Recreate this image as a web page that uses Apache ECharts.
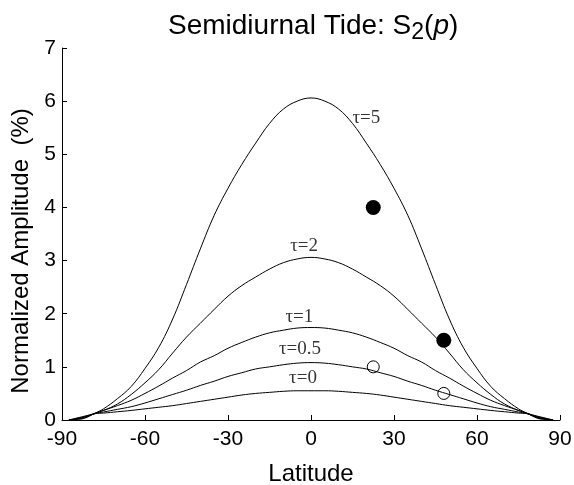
<!DOCTYPE html>
<html>
<head>
<meta charset="utf-8">
<script src="https://cdn.jsdelivr.net/npm/echarts@6/dist/echarts.min.js"></script>
<style>
html,body{margin:0;padding:0;background:#fff;}
#chart{width:574px;height:485px;}
</style>
</head>
<body>
<div id="chart"></div>
<script>
// Latitude grid (degrees)
var latitudes = [-87.5,-85,-82,-78,-75,-70,-65,-60,-55,-50,-45,-40,-35,-30,-25,-20,-15,-10,-5,0,
                 5,10,15,20,25,30,35,40,45,50,55,60,65,70,75,78,82,85,87.5];
// Normalized amplitude (%) for each tau
var tau5  = [0,0.01,0.03,0.13,0.21,0.40,0.63,0.97,1.37,1.90,2.55,3.22,3.85,4.36,4.81,5.21,5.58,5.85,6.00,6.06,
             6.00,5.85,5.58,5.21,4.81,4.36,3.85,3.22,2.55,1.90,1.37,0.97,0.63,0.40,0.21,0.13,0.03,0.01,0];
var tau2  = [0,0.015,0.04,0.13,0.18,0.30,0.48,0.70,0.95,1.26,1.56,1.82,2.08,2.33,2.53,2.69,2.84,2.96,3.03,3.06,
             3.03,2.96,2.84,2.69,2.53,2.33,2.08,1.82,1.56,1.26,0.95,0.70,0.48,0.30,0.18,0.13,0.04,0.015,0];
var tau1  = [0,0.02,0.05,0.125,0.18,0.27,0.37,0.50,0.64,0.79,0.93,1.09,1.21,1.35,1.46,1.56,1.64,1.69,1.73,1.74,
             1.73,1.69,1.64,1.56,1.46,1.35,1.21,1.09,0.93,0.79,0.64,0.50,0.37,0.27,0.18,0.125,0.05,0.02,0];
var tau05 = [0,0.025,0.06,0.12,0.15,0.20,0.25,0.32,0.40,0.48,0.56,0.65,0.73,0.82,0.89,0.96,1.00,1.04,1.07,1.08,
             1.07,1.04,1.00,0.96,0.89,0.82,0.73,0.65,0.56,0.48,0.40,0.32,0.25,0.20,0.15,0.12,0.06,0.025,0];
var tau0  = [0,0.032,0.07,0.12,0.13,0.155,0.18,0.21,0.24,0.27,0.31,0.35,0.39,0.43,0.47,0.50,0.52,0.54,0.55,0.55,
             0.55,0.54,0.52,0.50,0.47,0.43,0.39,0.35,0.31,0.27,0.24,0.21,0.18,0.155,0.13,0.12,0.07,0.032,0];

// Observations
var filledLat = [22.5, 48];
var filledVal = [4.0, 1.5];
var openLat = [22.5, 48];
var openVal = [1.0, 0.5];

// Curve labels (data coordinates)
var curveLabels = ['τ=5','τ=2','τ=1','τ=0.5','τ=0'];
var curveLabelLat = [20, -2.5, -4.2, -4, -2.9];
var curveLabelVal = [5.69, 3.28, 1.93, 1.34, 0.79];

// Axis ticks
var xTicks = [-90,-60,-30,0,30,60,90];
var yTicks = [0,1,2,3,4,5,6,7];

function pairs(xs, ys){ return xs.map(function(x,i){ return [x, ys[i]]; }); }

var sans = 'Liberation Sans, Arial, Helvetica, sans-serif';
var serif = 'Liberation Serif, Times New Roman, serif';

function curve(name, vals){
  return {
    name: name, type: 'line', data: pairs(latitudes, vals),
    showSymbol: false, symbol: 'none', smooth: 0.4,
    lineStyle: {color: '#000', width: 1}, z: 2, animation: false
  };
}

var chart = echarts.init(document.getElementById('chart'), null, {renderer: 'canvas'});
chart.setOption({
  animation: false,
  backgroundColor: '#fff',
  title: {
    text: '{a|Semidiurnal Tide: S}{s|2}{a|(}{i|p}{a|)}',
    left: 168, top: 8, padding: 0,
    textStyle: {
      rich: {
        a: {fontFamily: sans, fontSize: 28, fontWeight: 'normal', color: '#000', lineHeight: 36, verticalAlign: 'middle'},
        s: {fontFamily: sans, fontSize: 23, fontWeight: 'normal', color: '#000', lineHeight: 26, verticalAlign: 'bottom'},
        i: {fontFamily: sans, fontSize: 28, fontWeight: 'normal', color: '#000', fontStyle: 'italic', lineHeight: 36, verticalAlign: 'middle'}
      }
    }
  },
  grid: {left: 62, right: 14, top: 48, bottom: 65, containLabel: false, outerBoundsMode: 'none'},
  xAxis: {
    type: 'value', min: -90, max: 90, interval: 30,
    name: 'Latitude', nameLocation: 'middle', nameGap: 42,
    nameTextStyle: {fontFamily: sans, fontSize: 24, color: '#000'},
    axisLine: {show: true, onZero: false, lineStyle: {color: '#000', width: 1}},
    axisTick: {show: true, inside: true, length: 5, lineStyle: {color: '#000'}},
    axisLabel: {fontFamily: sans, fontSize: 21, color: '#000', margin: 9,
                formatter: function(v){ return xTicks.indexOf(v) >= 0 ? String(v) : ''; }},
    splitLine: {show: false}
  },
  yAxis: {
    type: 'value', min: 0, max: 7, interval: 1,
    name: 'Normalized Amplitude  (%)', nameLocation: 'middle', nameGap: 29, nameRotate: 90,
    nameTextStyle: {fontFamily: sans, fontSize: 24, color: '#000', padding: [0, 34, 0, 0]},
    axisLine: {show: true, onZero: false, lineStyle: {color: '#000', width: 1}},
    axisTick: {show: true, inside: true, length: 5, lineStyle: {color: '#000'}},
    axisLabel: {fontFamily: sans, fontSize: 21, color: '#000', margin: 6,
                formatter: function(v){ return yTicks.indexOf(v) >= 0 ? String(v) : ''; }},
    splitLine: {show: false}
  },
  series: [
    curve('τ=5', tau5),
    curve('τ=2', tau2),
    curve('τ=1', tau1),
    curve('τ=0.5', tau05),
    curve('τ=0', tau0),
    {
      type: 'scatter', data: pairs(filledLat, filledVal), symbol: 'circle', symbolSize: 15,
      itemStyle: {color: '#000', opacity: 1}, z: 5
    },
    {
      type: 'scatter', data: pairs(openLat, openVal), symbol: 'circle', symbolSize: 12,
      itemStyle: {color: 'rgba(0,0,0,0)', borderColor: '#000', borderWidth: 1, opacity: 1}, z: 5
    },
    {
      type: 'scatter', data: curveLabelLat.map(function(x,i){ return {value: [x, curveLabelVal[i]], name: curveLabels[i]}; }),
      symbolSize: 1, itemStyle: {color: 'rgba(0,0,0,0)'}, z: 6, silent: true,
      label: {show: true, position: 'inside', formatter: function(p){ return p.name; },
              fontFamily: serif, fontSize: 19, color: '#000'}
    }
  ]
});
</script>
</body>
</html>
